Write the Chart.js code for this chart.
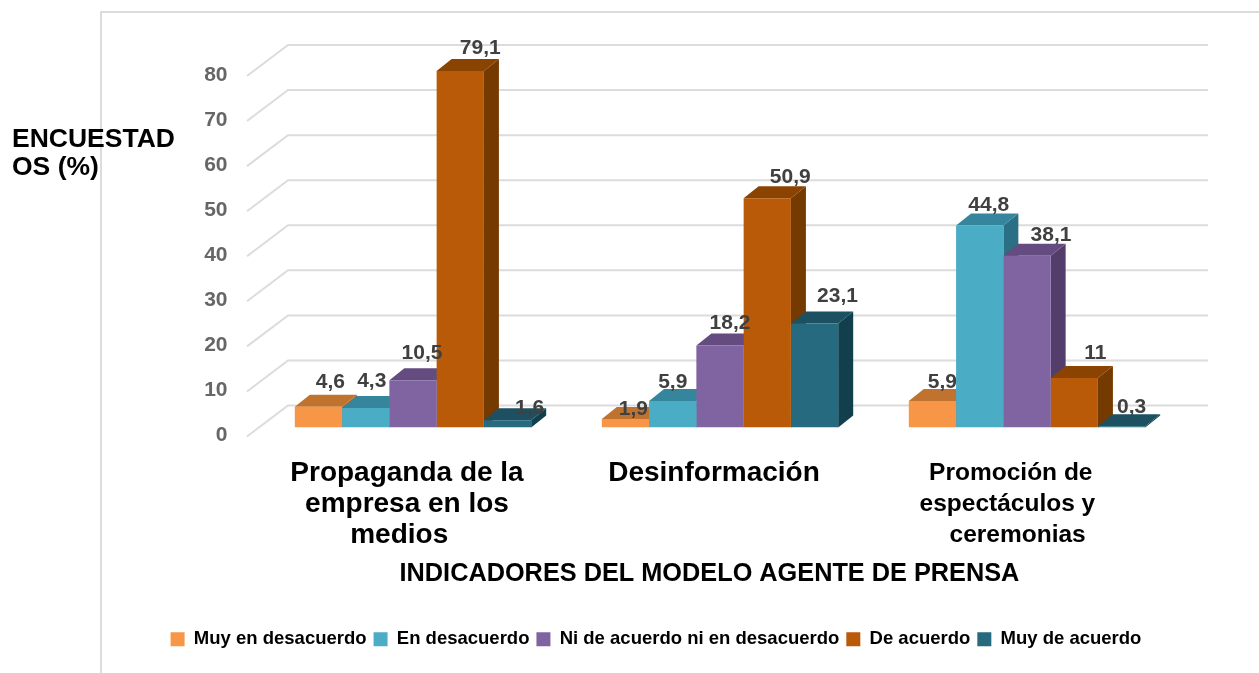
<!DOCTYPE html>
<html><head><meta charset="utf-8">
<style>html,body{margin:0;padding:0;background:#fff}canvas{display:block}</style>
<script src="https://cdn.jsdelivr.net/npm/chart.js@4/dist/chart.umd.min.js"></script>
</head><body>
<div style="width:1259px;height:673px"><canvas id="c"></canvas></div>
<script>
const NB = '\u00A0';
const categories = [
  ['Propaganda de la', 'empresa en los', 'medios' + NB + NB],
  ['Desinformación'],
  ['Promoción de' + NB + NB + NB, 'espectáculos y' + NB + NB + NB + NB, 'ceremonias' + NB]
];
const seriesNames = ['Muy en desacuerdo', 'En desacuerdo', 'Ni de acuerdo ni en desacuerdo', 'De acuerdo', 'Muy de acuerdo'];
const muyEnDesacuerdo = [4.6, 1.9, 5.9];
const enDesacuerdo = [4.3, 5.9, 44.8];
const niDeAcuerdo = [10.5, 18.2, 38.1];
const deAcuerdo = [79.1, 50.9, 11];
const muyDeAcuerdo = [1.6, 23.1, 0.3];
const yTicks = [0, 10, 20, 30, 40, 50, 60, 70, 80];
const xTitle = 'INDICADORES DEL MODELO AGENTE DE PRENSA' + NB + NB + NB;
const yTitle = ['ENCUESTAD', 'OS (%)'];

const frontColors = ['#F79646', '#4BACC6', '#8064A2', '#B85A07', '#256A7E'];
const topColors = ['#C0732F', '#35869C', '#644B80', '#8A4300', '#1D5060'];
const sideColors = ['#A8622A', '#2A6F83', '#533D6B', '#753A00', '#123F4C'];
/* label nudges relative to each bar's top centre, [dx, dy] per series and category */
const labelNudges = [
  [[12, -25], [8, -10], [10, -19]],
  [[6, -27], [0, -19], [9, -20]],
  [[9, -27], [10, -22], [24, -21]],
  [[20, -23], [23, -21], [21, -25]],
  [[22, -12], [23, -27], [10, -19]]
];
const DEPTH_X = 15, DEPTH_Y = 12;
const FONT = '"Liberation Sans", Arial, sans-serif';

const seriesValues = [muyEnDesacuerdo, enDesacuerdo, niDeAcuerdo, deAcuerdo, muyDeAcuerdo];

const decor = {
  id: 'decor',
  afterLayout(chart) {
    const l = chart.legend;
    const dx = 656 - (l.left + l.right) / 2;
    l.left += dx; l.right += dx;
    l.top = 623; l.bottom = l.top + l.height;
  },
  beforeDatasetsDraw(chart) {
    const { ctx } = chart, y = chart.scales.y;
    ctx.save();
    /* frame */
    ctx.strokeStyle = '#DCDCDC'; ctx.lineWidth = 2;
    ctx.beginPath(); ctx.moveTo(101, 673); ctx.lineTo(101, 12); ctx.lineTo(1259, 12); ctx.stroke();
    /* floor and back wall grid */
    yTicks.forEach(v => {
      const back = y.getPixelForValue(v) - 22;
      ctx.beginPath();
      ctx.moveTo(247, back + 31); ctx.lineTo(288, back); ctx.lineTo(1208, back);
      ctx.stroke();
    });
    /* depth faces, left to right */
    const metas = chart.getSortedVisibleDatasetMetas().slice().sort((a, b) => a.index - b.index);
    categories.forEach((_, ci) => {
      metas.forEach(m => {
        const b = m.data[ci], L = b.x - b.width / 2, R = b.x + b.width / 2;
        ctx.fillStyle = sideColors[m.index];
        ctx.beginPath();
        ctx.moveTo(R, b.y); ctx.lineTo(R + DEPTH_X, b.y - DEPTH_Y);
        ctx.lineTo(R + DEPTH_X, b.base - DEPTH_Y); ctx.lineTo(R, b.base);
        ctx.closePath(); ctx.fill();
        ctx.fillStyle = topColors[m.index];
        ctx.beginPath();
        ctx.moveTo(L, b.y); ctx.lineTo(L + DEPTH_X, b.y - DEPTH_Y);
        ctx.lineTo(R + DEPTH_X, b.y - DEPTH_Y); ctx.lineTo(R, b.y);
        ctx.closePath(); ctx.fill();
      });
    });
    ctx.restore();
  },
  afterDatasetsDraw(chart) {
    const { ctx } = chart;
    ctx.save();
    ctx.font = 'bold 21px ' + FONT;
    ctx.fillStyle = '#404040';
    ctx.textAlign = 'center'; ctx.textBaseline = 'middle';
    chart.getSortedVisibleDatasetMetas().forEach(m => {
      m.data.forEach((b, ci) => {
        const [dx, dy] = labelNudges[m.index][ci];
        ctx.fillText(String(seriesValues[m.index][ci]).replace('.', ','), b.x + dx, b.y + dy);
      });
    });
    ctx.font = 'bold 26.5px ' + FONT;
    ctx.fillStyle = '#000';
    ctx.textAlign = 'left';
    yTitle.forEach((t, i) => ctx.fillText(t, 12, 140 + i * 28));
    ctx.restore();
  }
};

new Chart(document.getElementById('c'), {
  type: 'bar',
  data: {
    labels: categories,
    datasets: seriesNames.map((n, i) => ({
      label: n, data: seriesValues[i], backgroundColor: frontColors[i],
      borderWidth: 0, barPercentage: 1, categoryPercentage: 0.77
    }))
  },
  options: {
    responsive: true, maintainAspectRatio: false, animation: false,
    layout: { padding: { top: 67, right: 78.5, left: 0, bottom: 0 } },
    scales: {
      y: {
        min: 0, max: 80,
        afterFit(s) { s.width = 259.5; },
        grid: { display: false }, border: { display: false },
        ticks: {
          stepSize: 10, padding: 24, labelOffset: 8, color: '#666666',
          font: { family: FONT, size: 21, weight: 'bold' }
        }
      },
      x: {
        afterFit(s) { s.height = 210; },
        grid: { display: false }, border: { display: false },
        title: {
          display: true, text: xTitle, color: '#000',
          font: { family: FONT, size: 25.3, weight: 'bold' },
          padding: { top: 0, bottom: 48 }
        },
        ticks: {
          autoSkip: false, maxRotation: 0, minRotation: 0, padding: 22, labelOffset: -6, color: '#000',
          font: c => c.index === 2
            ? { family: FONT, size: 24.5, weight: 'bold', lineHeight: '31px' }
            : { family: FONT, size: 28, weight: 'bold', lineHeight: '31px' }
        }
      }
    },
    plugins: {
      tooltip: { enabled: false },
      legend: {
        position: 'bottom',
        labels: {
          boxWidth: 14, boxHeight: 14, padding: 7, color: '#000',
          font: { family: FONT, size: 18.5, weight: 'bold' }
        }
      }
    }
  },
  plugins: [decor]
});
</script>
</body></html>
